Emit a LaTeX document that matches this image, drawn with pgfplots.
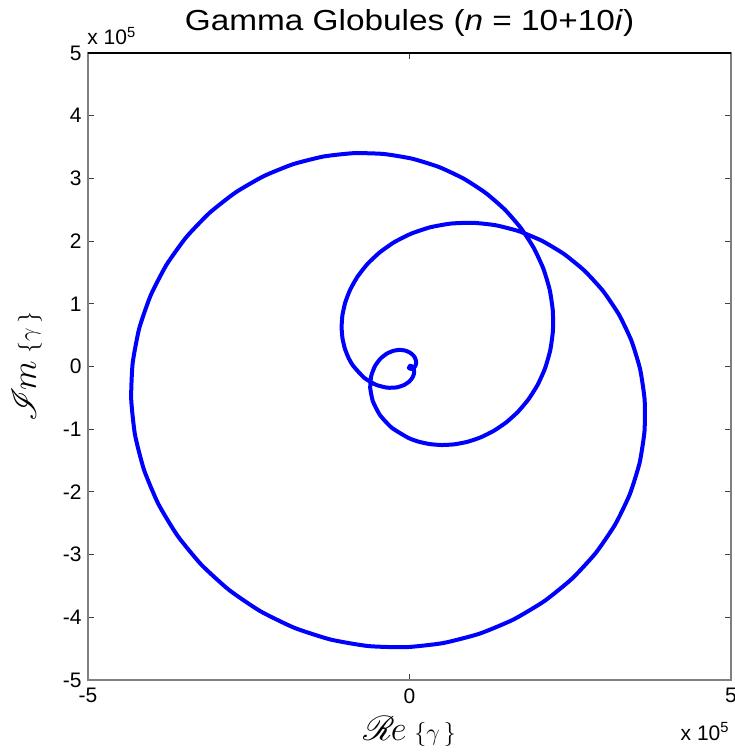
\documentclass[border=0pt]{standalone}
\usepackage{fontspec}
\setmainfont{Liberation Sans}
\usepackage{mathrsfs}
\usepackage{graphicx}
\usepackage{pgfplots}
\pgfplotsset{compat=1.18}
\usetikzlibrary{calc}
\begin{document}
\begin{tikzpicture}
\begin{axis}[
  name=ax, at={(0,0)}, anchor=south west,
  scale only axis, width=321.5pt, height=313.5pt,
  xmin=-5, xmax=5, ymin=-5, ymax=5,
  xtick={-5,0,5}, xticklabels={-5,0,5},
  ytick={-5,-4,...,5}, yticklabels={-5,-4,-3,-2,-1,0,1,2,3,4,5},
  tick align=inside, major tick length=3pt,
  tick style={black!75, line width=0.5pt},
  axis line style={black!50, line width=0.6pt},
  ticklabel style={font=\fontsize{10.5}{12}\selectfont, text=black},
  xticklabel style={inner sep=0pt, yshift=-4pt},
  yticklabel style={inner sep=0pt, xshift=-3pt},
]
\addplot[blue, line width=2pt, line join=round, line cap=round, smooth, tension=0.33] coordinates {
(-0.0104,-0.0175) (-0.0066,-0.0235) (-0.0004,-0.0293) (0.0087,-0.0341)
(0.0206,-0.0368) (0.0352,-0.0361) (0.0517,-0.0307) (0.0687,-0.0193)
(0.0847,-0.0011) (0.0972,0.0247) (0.1033,0.0579) (0.0999,0.0974)
(0.0837,0.1409) (0.0520,0.1849) (0.0028,0.2244) (-0.0645,0.2534)
(-0.1486,0.2650) (-0.2457,0.2519) (-0.3494,0.2076) (-0.4504,0.1268)
(-0.5369,0.0067) (-0.5951,-0.1515) (-0.6107,-0.3425) (-0.5694,-0.5553)
(-0.4599,-0.7739) (-0.2751,-0.9773) (-0.0143,-1.1406) (0.1425,-1.1990)
(0.3149,-1.2373) (0.5005,-1.2525) (0.6962,-1.2415) (0.8985,-1.2019)
(1.1035,-1.1315) (1.3064,-1.0288) (1.5024,-0.8927) (1.6861,-0.7234)
(1.8521,-0.5213) (1.9949,-0.2882) (2.1090,-0.0265) (2.1892,0.2603)
(2.2305,0.5677) (2.2289,0.8906) (2.1806,1.2227) (2.0832,1.5573)
(1.9350,1.8869) (1.7353,2.2036) (1.4853,2.4995) (1.1868,2.7663)
(0.8432,2.9959) (0.4595,3.1809) (0.0417,3.3141) (-0.4030,3.3897)
(-0.8660,3.4025) (-1.3381,3.3490) (-1.8093,3.2267) (-2.2688,3.0350)
(-2.7061,2.7750) (-3.1104,2.4494) (-3.4715,2.0628) (-3.7796,1.6215)
(-4.0259,1.1331) (-4.2034,0.6072) (-4.3055,0.0541) (-4.3284,-0.5146)
(-4.2695,-1.0867) (-4.1285,-1.6496) (-3.9069,-2.1907) (-3.6087,-2.6977)
(-3.2394,-3.1589) (-2.8065,-3.5638) (-2.3192,-3.9029) (-1.7884,-4.1687)
(-1.2258,-4.3551) (-0.6441,-4.4584) (-0.0563,-4.4767) (0.5244,-4.4106)
(1.0849,-4.2626) (1.6132,-4.0374) (2.0978,-3.7413) (2.5290,-3.3830)
(2.8982,-2.9720) (3.1991,-2.5193) (3.4269,-2.0363) (3.5791,-1.5355)
(3.6552,-1.0288) (3.6568,-0.5283) (3.5872,-0.0451) (3.4518,0.4104)
(3.2570,0.8290) (3.0110,1.2031) (2.7225,1.5266) (2.4013,1.7951)
(2.0571,2.0060) (1.6996,2.1583) (1.3388,2.2530) (0.9834,2.2922)
(0.6416,2.2795) (0.3207,2.2201) (0.0266,2.1191) (-0.2358,1.9835)
(-0.4632,1.8200) (-0.6535,1.6355) (-0.8057,1.4368) (-0.9202,1.2310)
(-0.9984,1.0238) (-1.0426,0.8211) (-1.0559,0.6274) (-1.0418,0.4469)
(-1.0043,0.2827) (-0.9478,0.1369) (-0.8762,0.0110) (-0.7052,-0.1795)
(-0.5208,-0.2920) (-0.3465,-0.3379) (-0.1979,-0.3330) (-0.0829,-0.2947)
(-0.0030,-0.2387) (0.0453,-0.1780) (0.0681,-0.1215) (0.0728,-0.0747)
(0.0660,-0.0392) (0.0537,-0.0151) (0.0399,-0.0005) (0.0272,0.0069)
(0.0170,0.0095) (0.0095,0.0092) (0.0045,0.0077)
};
\end{axis}
\draw[black, line width=0.6pt] (ax.north west) -- (ax.north east);
\node[anchor=base, inner sep=0pt, font=\fontsize{14.5}{17}\selectfont] at ($(ax.north)+(0,11pt)$)
  {\scalebox{1.15}[1]{Gamma Globules (\textit{n} = 10+10\textit{i})}};
\node[anchor=base west, font=\fontsize{10.5}{12}\selectfont, inner sep=0pt] at ($(ax.north west)+(-0.5pt,4pt)$)
  {x 10\textsuperscript{5}};
\node[anchor=base east, font=\fontsize{10.5}{12}\selectfont, inner sep=0pt] at ($(ax.south east)+(-0.5pt,-30pt)$)
  {x 10\textsuperscript{5}};
\node[anchor=base, inner sep=0pt] at ($(ax.south)+(0,-30pt)$)
  {{\fontsize{16}{18}\selectfont$\mathscr{R}\mkern-2mu e$}\hspace{4pt}{\fontsize{13}{15}\selectfont$\{\gamma\,\}$}};
\node[anchor=base, rotate=90, inner sep=0pt] at ($(ax.west)+(-26pt,0)$)
  {{\fontsize{16}{18}\selectfont$\mathscr{I}\mkern-2mu m$}\hspace{4pt}{\fontsize{13}{15}\selectfont$\{\gamma\,\}$}};
\pgfresetboundingbox
\path ($(ax.south west)+(-44pt,-37.5pt)$) rectangle ($(ax.north east)+(2pt,26.5pt)$);
\end{tikzpicture}
\end{document}
